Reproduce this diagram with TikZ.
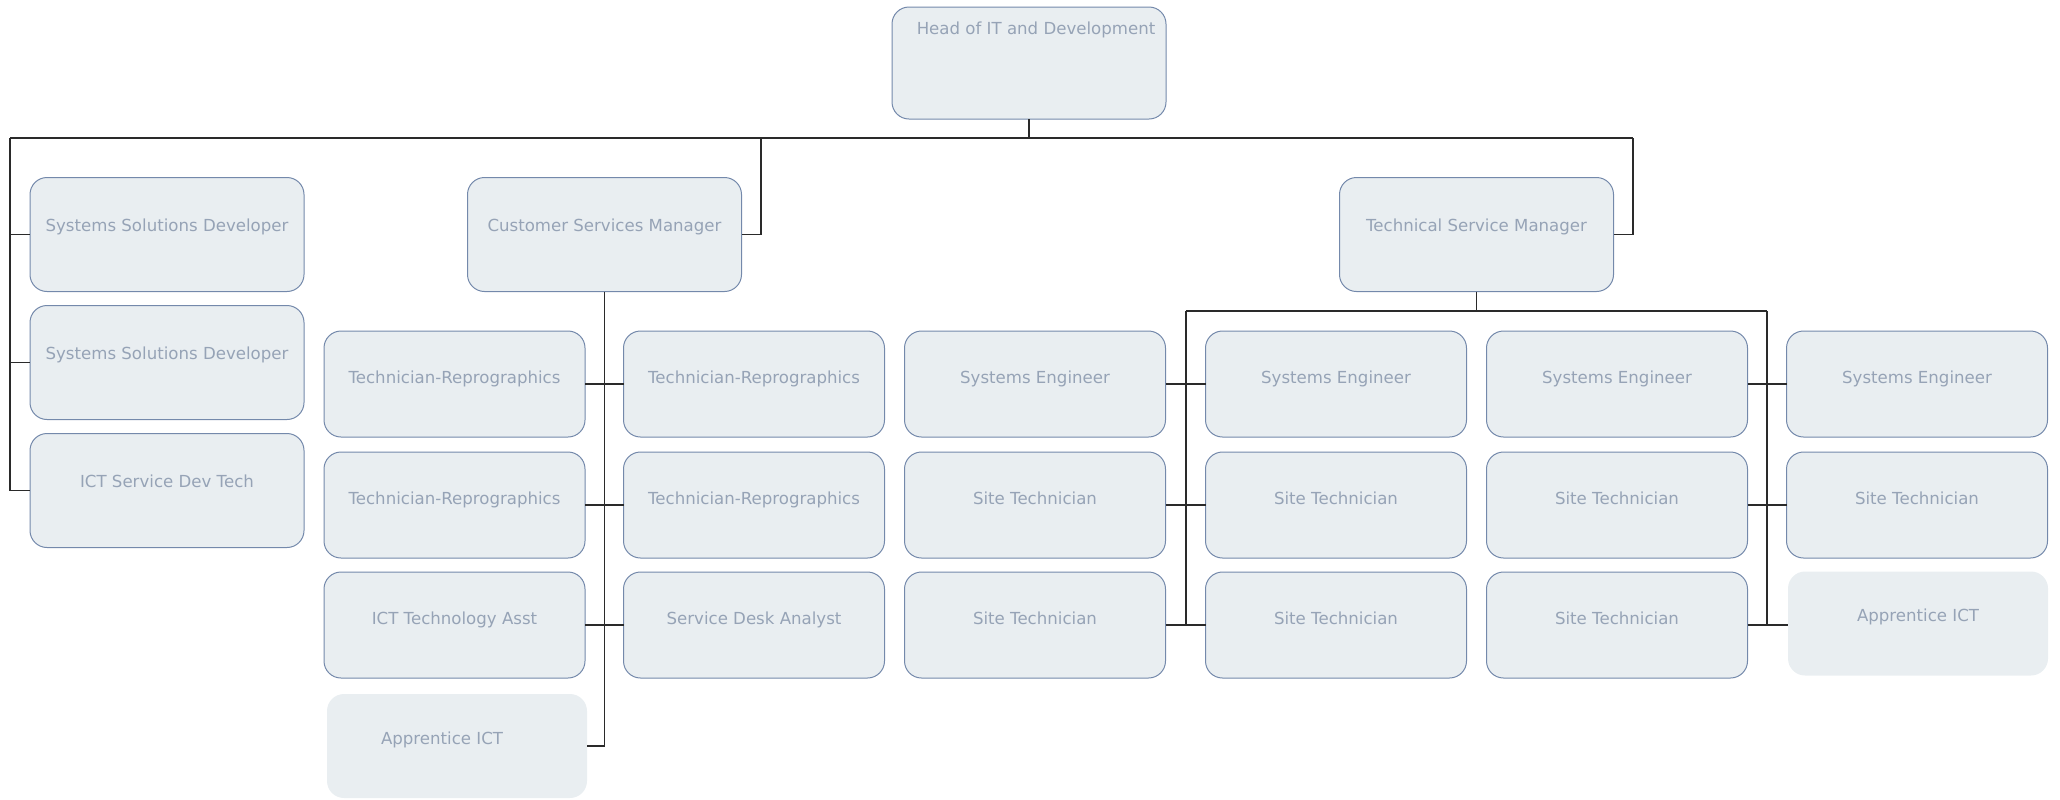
\documentclass[tikz,border=0pt]{standalone}
\usepackage{fontspec}
\setmainfont{DejaVu Sans}
\definecolor{boxfill}{HTML}{E9EEF1}
\definecolor{boxline}{HTML}{7489AB}
\definecolor{boxtext}{HTML}{96A3B6}
\definecolor{wire}{HTML}{2A2A2A}
\begin{document}
\begin{tikzpicture}[x=0.5pt,y=-0.5pt,
  base/.style={rounded corners=8.5pt, fill=boxfill, inner sep=0pt, outer sep=0pt,
    text=boxtext, font=\fontsize{8.3pt}{10pt}\selectfont, align=center},
  framed/.style={base, draw=boxline, line width=0.5pt},
  headbox/.style={framed, minimum width=137pt, text height=13.5pt, text depth=42.5pt},
  lvlbox/.style={framed, minimum width=137pt, text height=27pt, text depth=30pt},
  rowbox/.style={framed, minimum width=130.5pt, text height=26pt, text depth=27pt},
  appbox/.style={base, minimum width=130pt, text height=25pt, text depth=27pt},
  wireline/.style={draw=wire, line width=0.55pt}]
\useasboundingbox (0,0) rectangle (2060,799);

% head
\node[headbox] (head) at (1029,63) {\hspace*{7pt}Head of IT and Development};

% level 1
\node[lvlbox] (ssd1) at (167,234.5) {Systems Solutions Developer};
\node[lvlbox] (ssd2) at (167,362.5) {Systems Solutions Developer};
\node[lvlbox] (icts) at (167,490.5) {ICT Service Dev Tech};
\node[lvlbox] (csm) at (604.5,234.5) {Customer Services Manager};
\node[lvlbox] (tsm) at (1476.5,234.5) {Technical Service Manager};

% customer services children
\node[rowbox] (tr1) at (454.5,384) {Technician-Reprographics};
\node[rowbox] (tr2) at (754,384) {Technician-Reprographics};
\node[rowbox] (tr3) at (454.5,505) {Technician-Reprographics};
\node[rowbox] (tr4) at (754,505) {Technician-Reprographics};
\node[rowbox] (icta) at (454.5,625) {ICT Technology Asst};
\node[rowbox] (sda) at (754,625) {Service Desk Analyst};
\node[appbox] (appl) at (457,746) {Apprentice ICT\hspace*{15pt}};

% technical service children
\node[rowbox] (se1) at (1035,384) {Systems Engineer};
\node[rowbox] (se2) at (1336,384) {Systems Engineer};
\node[rowbox] (se3) at (1617,384) {Systems Engineer};
\node[rowbox] (se4) at (1917,384) {Systems Engineer};
\node[rowbox] (st1) at (1035,505) {Site Technician};
\node[rowbox] (st2) at (1336,505) {Site Technician};
\node[rowbox] (st3) at (1617,505) {Site Technician};
\node[rowbox] (st4) at (1917,505) {Site Technician};
\node[rowbox] (st5) at (1035,625) {Site Technician};
\node[rowbox] (st6) at (1336,625) {Site Technician};
\node[rowbox] (st7) at (1617,625) {Site Technician};
\node[appbox] (appr) at (1918,623.5) {Apprentice ICT};

% top bus
\coordinate (bl) at (10,138);
\coordinate (bm) at (761,138);
\coordinate (br) at (1633,138);
\draw[wireline] (head.south) -- (head.south |- bl);
\draw[wireline] (bl) -- (br);
\draw[wireline] (bl) |- (icts.west);
\draw[wireline] (bl |- ssd1.west) -- (ssd1.west);
\draw[wireline] (bl |- ssd2.west) -- (ssd2.west);
\draw[wireline] (bm) |- (csm.east);
\draw[wireline] (br) |- (tsm.east);

% customer services spine
\draw[wireline] (csm.south) -- (csm.south |- appl.east) -- (appl.east);
\draw[wireline] (tr1.east) -- (tr2.west);
\draw[wireline] (tr3.east) -- (tr4.west);
\draw[wireline] (icta.east) -- (sda.west);

% technical service bus
\coordinate (tl) at (1186,311);
\coordinate (tr) at (1767,311);
\draw[wireline] (tsm.south) -- (tsm.south |- tl);
\draw[wireline] (tl) -- (tr);
\draw[wireline] (tl) -- (tl |- st5.east);
\draw[wireline] (tr) -- (tr |- st7.east);
\draw[wireline] (se1.east) -- (se2.west);
\draw[wireline] (st1.east) -- (st2.west);
\draw[wireline] (st5.east) -- (st6.west);
\draw[wireline] (se3.east) -- (se4.west);
\draw[wireline] (st3.east) -- (st4.west);
\draw[wireline] (st7.east) -- (st7.east -| appr.west);
\end{tikzpicture}
\end{document}
